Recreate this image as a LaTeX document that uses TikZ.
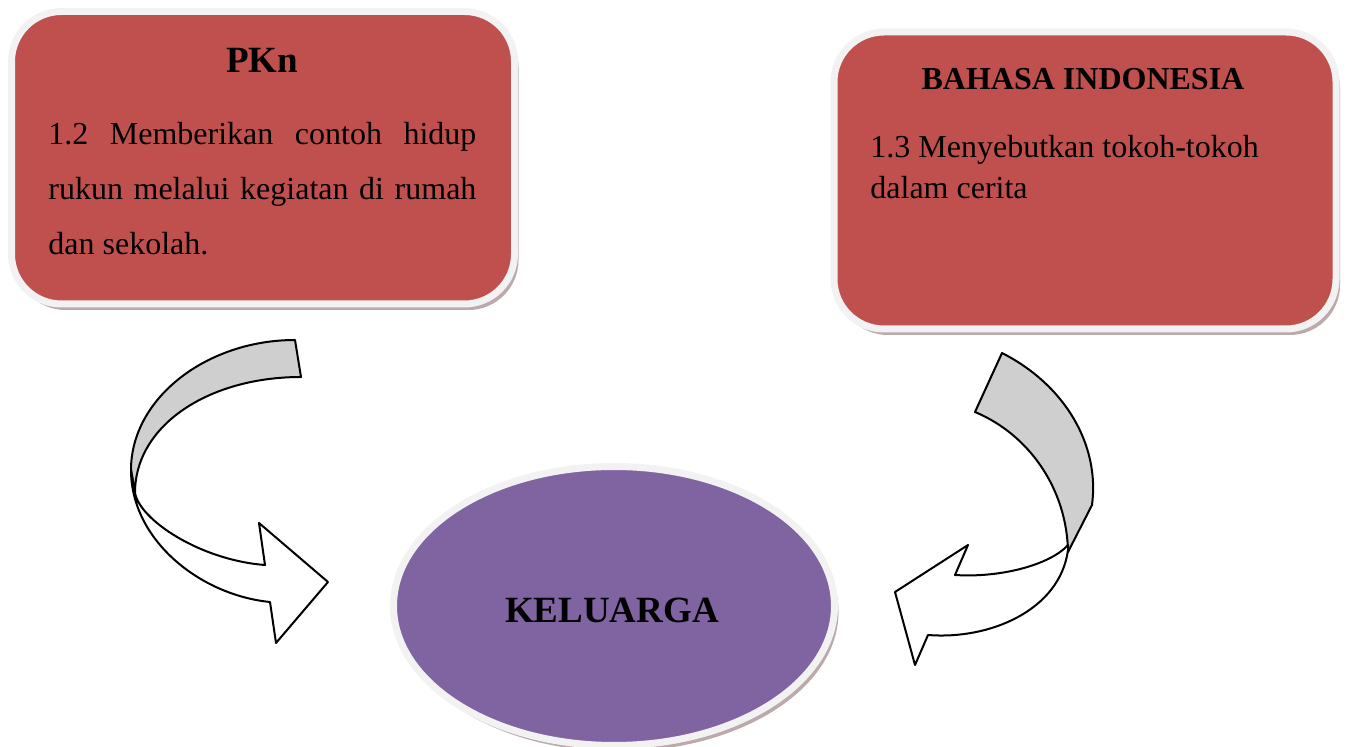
\documentclass[tikz,border=0pt]{standalone}
\usepackage{fontspec}
\setmainfont{Liberation Serif}
\usetikzlibrary{shadows,shapes.geometric}
\definecolor{boxred}{HTML}{C0504D}
\definecolor{elpurple}{HTML}{8064A2}
\definecolor{rimgray}{HTML}{F2F2F2}
\definecolor{shadowc}{HTML}{A08484}
\definecolor{arrowgray}{HTML}{CFCFCF}
\begin{document}
\begin{tikzpicture}[x=0.5pt,y=-0.5pt,
  softshadow/.style={drop shadow={shadow xshift=2pt, shadow yshift=-3pt, fill=shadowc, opacity=0.7}},
  card/.style={fill=boxred, draw=rimgray, line width=3.5pt, rounded corners=25pt, softshadow, inner sep=0pt},
  hub/.style={ellipse, fill=elpurple, draw=rimgray, line width=3.5pt, softshadow, inner sep=0pt},
  title/.style={font=\bfseries\fontsize{18.5}{22}\selectfont, inner sep=0pt},
  subtitle/.style={font=\bfseries\fontsize{16}{19}\selectfont, inner sep=0pt},
  body/.style={font=\fontsize{16}{19}\selectfont, inner sep=0pt, anchor=base west},
  arrowback/.style={fill=arrowgray, draw=black, line width=1pt, line join=round},
  arrowfront/.style={fill=white, draw=black, line width=1pt, line join=round}]
\useasboundingbox (0,0) rectangle (1349,747);
% cards
\node[card, minimum width=251.5pt, minimum height=146.25pt] (pkn) at (263,157.75) {};
\node[card, minimum width=251pt, minimum height=148.5pt] (bind) at (1085,180.5) {};
\node[hub, minimum width=220.5pt, minimum height=139.5pt] (kel) at (614,606) {};
% texts
\node[title, anchor=base] (pkntitle) at (262,73) {PKn};
\node[body] (pkn1) at (48,145) {\makebox[214pt][s]{1.2 Memberikan contoh hidup}};
\node[body] (pkn2) at (48,200) {\makebox[214pt][s]{rukun melalui kegiatan di rumah}};
\node[body] (pkn3) at (48,255) {dan sekolah.};
\node[subtitle, anchor=base] (bindtitle) at (1083,90) {BAHASA INDONESIA};
\node[body] (bind1) at (870,158) {1.3 Menyebutkan tokoh-tokoh};
\node[body] (bind2) at (870,199) {dalam cerita};
\node[title, anchor=base] (keltitle) at (612,623) {KELUARGA};
% left curved arrow
\filldraw[arrowback] (295,340) .. controls (207,340) and (131,398) .. (131,470)
  -- (135,493) .. controls (135,425) and (209,377) .. (301,377) -- cycle;
\filldraw[arrowfront] (131,470) .. controls (131,540) and (200,595) .. (270,602)
  -- (276,643) -- (328,582) -- (259,523) -- (265,565)
  .. controls (200,560) and (140,520) .. (135,493) -- cycle;
% right curved arrow
\filldraw[arrowback] (1002,353) .. controls (1065,385) and (1100,445) .. (1092,505)
  -- (1068,552) .. controls (1067,490) and (1030,435) .. (975,412) -- cycle;
\filldraw[arrowfront] (1068,550) .. controls (1060,610) and (990,640) .. (928,635)
  -- (915,665) -- (895,592) -- (968,545) -- (955,575)
  .. controls (1000,578) and (1050,565) .. (1068,545) -- cycle;
\end{tikzpicture}
\end{document}
